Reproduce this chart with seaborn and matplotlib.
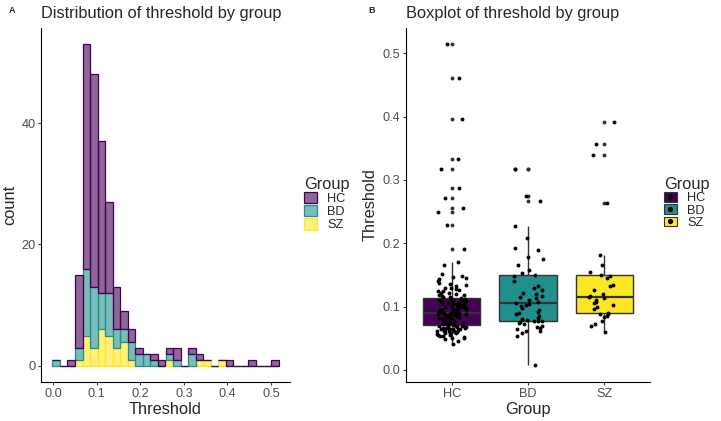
import matplotlib
matplotlib.use("Agg")
import matplotlib.pyplot as plt
from matplotlib.patches import Patch
from matplotlib.lines import Line2D
from matplotlib.legend_handler import HandlerTuple
import numpy as np
import pandas as pd
import seaborn as sns

# ============================================================
# DATA
# ============================================================

GROUPS = ["HC", "BD", "SZ"]
PALETTE = {"HC": "#440154", "BD": "#21908C", "SZ": "#FDE725"}

# histogram: 30 bins over this threshold range, counts per group
HIST_RANGE = (-0.0023, 0.5176)
N_BINS = 30
HC_COUNTS = [0, 0, 1, 12, 37, 35, 25, 15, 7, 3, 2, 1, 0, 1, 1,
             1, 2, 0, 1, 1, 0, 0, 0, 1, 0, 0, 1, 0, 0, 1]
BD_COUNTS = [1, 0, 0, 2, 11, 10, 6, 7, 3, 2, 3, 2, 2, 1, 0,
             1, 1, 0, 2, 0, 0, 0, 0, 0, 0, 0, 0, 0, 0, 0]
SZ_COUNTS = [0, 0, 0, 1, 5, 3, 6, 5, 3, 4, 1, 0, 0, 0, 0,
             1, 0, 0, 0, 1, 1, 0, 1, 0, 0, 0, 0, 0, 0, 0]

# boxplot: threshold per subject
HC_THRESH = [
    0.041, 0.046, 0.049, 0.050, 0.051, 0.052, 0.053, 0.054, 0.055, 0.056,
    0.057, 0.058, 0.058, 0.059, 0.060, 0.060, 0.061, 0.061, 0.062, 0.062,
    0.063, 0.063, 0.064, 0.064, 0.065, 0.065, 0.066, 0.066, 0.067, 0.067,
    0.068, 0.068, 0.069, 0.069, 0.070, 0.070, 0.070,
    0.071, 0.072, 0.072, 0.073, 0.074, 0.074, 0.075, 0.076, 0.076, 0.077,
    0.078, 0.078, 0.079, 0.080, 0.080, 0.081, 0.082, 0.082, 0.083, 0.083,
    0.084, 0.084, 0.085, 0.085, 0.086, 0.086, 0.087, 0.087, 0.088, 0.088,
    0.089, 0.089, 0.089, 0.090, 0.090, 0.090, 0.090,
    0.091, 0.091, 0.092, 0.092, 0.093, 0.093, 0.094, 0.095, 0.095, 0.096,
    0.097, 0.097, 0.098, 0.099, 0.099, 0.100, 0.100, 0.101, 0.102, 0.102,
    0.103, 0.104, 0.104, 0.105, 0.106, 0.106, 0.107, 0.108, 0.108, 0.109,
    0.110, 0.110, 0.111, 0.112, 0.112, 0.113, 0.114,
    0.115, 0.116, 0.117, 0.118, 0.119, 0.120, 0.121, 0.122, 0.124, 0.125,
    0.126, 0.128, 0.129, 0.130, 0.132, 0.134, 0.136, 0.138, 0.141, 0.144,
    0.145, 0.147, 0.148, 0.152, 0.165, 0.171,
    0.1905, 0.2295, 0.249, 0.255, 0.271, 0.288, 0.318, 0.333, 0.397, 0.4615,
    0.515,
]
BD_THRESH = [
    0.008, 0.054, 0.058, 0.061, 0.062, 0.065, 0.067, 0.068, 0.070, 0.072,
    0.074, 0.075, 0.077, 0.077,
    0.078, 0.079, 0.080, 0.082, 0.085, 0.088, 0.090, 0.092, 0.095, 0.098,
    0.101, 0.103, 0.104,
    0.106, 0.108, 0.110, 0.113, 0.115, 0.117, 0.120, 0.122, 0.126, 0.129,
    0.132, 0.140, 0.149,
    0.150, 0.153, 0.158, 0.166, 0.176, 0.178, 0.190, 0.193, 0.209, 0.227,
    0.267, 0.274, 0.317, 0.318,
]
SZ_THRESH = [
    0.060, 0.070, 0.072, 0.077, 0.084, 0.085, 0.088, 0.089,
    0.090, 0.097, 0.100, 0.103, 0.106, 0.108, 0.111, 0.114,
    0.116, 0.117, 0.120, 0.127, 0.133, 0.134, 0.146, 0.149,
    0.150, 0.155, 0.165, 0.182,
    0.263, 0.340, 0.357, 0.391,
]

# ============================================================
# BUILD TABLES
# ============================================================

edges = np.linspace(HIST_RANGE[0], HIST_RANGE[1], N_BINS + 1)
centers = (edges[:-1] + edges[1:]) / 2
hist_df = pd.concat([
    pd.DataFrame({"Threshold": centers, "count": c, "Group": g})
    for g, c in zip(GROUPS, [HC_COUNTS, BD_COUNTS, SZ_COUNTS])
], ignore_index=True)

box_df = pd.concat([
    pd.DataFrame({"Threshold": v, "Group": g})
    for g, v in zip(GROUPS, [HC_THRESH, BD_THRESH, SZ_THRESH])
], ignore_index=True)

# ============================================================
# STYLE
# ============================================================

sns.set_style("ticks")
plt.rcParams["font.family"] = ["Liberation Sans", "DejaVu Sans"]
plt.rcParams.update({
    "axes.linewidth": 0.8,
    "axes.edgecolor": "black",
    "xtick.color": "#333333",
    "ytick.color": "#333333",
    "xtick.labelcolor": "#4D4D4D",
    "ytick.labelcolor": "#4D4D4D",
    "xtick.major.size": 2.5,
    "ytick.major.size": 2.5,
    "xtick.major.width": 0.8,
    "ytick.major.width": 0.8,
    "xtick.major.pad": 1.5,
    "ytick.major.pad": 1.5,
    "xtick.labelsize": 9.2,
    "ytick.labelsize": 9.2,
})

TITLE_FS = 11.8
LABEL_FS = 11.8

fig = plt.figure(figsize=(7.21, 4.21), dpi=100)
ax1 = fig.add_axes([41 / 721, 39 / 421, 249 / 721, 354 / 421])
ax2 = fig.add_axes([406 / 721, 39 / 421, 244 / 721, 354 / 421])

# ============================================================
# PANEL A: stacked histogram
# ============================================================

sns.histplot(
    data=hist_df, x="Threshold", weights="count", hue="Group",
    hue_order=GROUPS, palette=PALETTE, bins=N_BINS, binrange=HIST_RANGE,
    multiple="stack", alpha=1, linewidth=0.9, legend=False, ax=ax1,
)
for p in ax1.patches:
    fc = p.get_facecolor()
    p.set_edgecolor((fc[0], fc[1], fc[2], 1))
    p.set_facecolor((fc[0], fc[1], fc[2], 0.6))

ax1.set_xlim(-0.0283, 0.5436)
ax1.set_ylim(-2.65, 55.65)
ax1.set_xticks([0.0, 0.1, 0.2, 0.3, 0.4, 0.5])
ax1.set_xticklabels(["0.0", "0.1", "0.2", "0.3", "0.4", "0.5"])
ax1.set_yticks([0, 20, 40])
ax1.set_xlabel("Threshold", fontsize=LABEL_FS, labelpad=2)
ax1.set_ylabel("count", fontsize=LABEL_FS, labelpad=3)
ax1.set_title("Distribution of threshold by group", loc="left",
              fontsize=TITLE_FS, pad=7)
sns.despine(ax=ax1)

hist_handles = [
    Patch(facecolor=(*matplotlib.colors.to_rgb(PALETTE[g]), 0.6),
          edgecolor=PALETTE[g], linewidth=0.9)
    for g in GROUPS
]
leg1 = fig.legend(
    hist_handles, GROUPS, title="Group", loc="upper left",
    bbox_to_anchor=(295 / 721, 1 - 168 / 421), frameon=False,
    fontsize=9.2, title_fontsize=11.8, handlelength=1.0,
    handleheight=1.0, labelspacing=0.0, handletextpad=0.8,
    borderpad=0.2,
)
leg1._legend_box.align = "left"

# ============================================================
# PANEL B: boxplot with jittered points
# ============================================================

sns.boxplot(
    data=box_df, x="Group", y="Threshold", hue="Group", order=GROUPS,
    hue_order=GROUPS, palette=PALETTE, saturation=1, width=0.75,
    linecolor="#333333", linewidth=1.0, showcaps=False, legend=False,
    ax=ax2, medianprops={"linewidth": 1.6},
    flierprops={"marker": "o", "markersize": 2.8,
                "markerfacecolor": "#333333", "markeredgecolor": "none"},
)
np.random.seed(3)
sns.stripplot(
    data=box_df, x="Group", y="Threshold", order=GROUPS, color="black",
    size=2.8, jitter=0.2, linewidth=0, ax=ax2,
)

ax2.set_xlim(-0.6, 2.6)
ax2.set_ylim(-0.019, 0.54)
ax2.set_yticks([0.0, 0.1, 0.2, 0.3, 0.4, 0.5])
ax2.set_yticklabels(["0.0", "0.1", "0.2", "0.3", "0.4", "0.5"])
ax2.set_xlabel("Group", fontsize=LABEL_FS, labelpad=2)
ax2.set_ylabel("Threshold", fontsize=LABEL_FS, labelpad=4)
ax2.set_title("Boxplot of threshold by group", loc="left",
              fontsize=TITLE_FS, pad=7)
sns.despine(ax=ax2)

box_handles = [
    (Patch(facecolor=PALETTE[g], edgecolor="#333333", linewidth=0.8),
     Line2D([], [], marker="o", color="black", ls="", markersize=2.8))
    for g in GROUPS
]
leg2 = fig.legend(
    box_handles, GROUPS, title="Group", loc="upper left",
    bbox_to_anchor=(655 / 721, 1 - 168 / 421), frameon=False,
    fontsize=9.2, title_fontsize=11.8, handlelength=1.0,
    handleheight=0.8, labelspacing=0.0, handletextpad=0.8,
    borderpad=0.2, handler_map={tuple: HandlerTuple(ndivide=1)},
)
leg2._legend_box.align = "left"

# panel tags
fig.text(9 / 721, 1 - 13 / 421, "A", fontsize=6.5, fontweight="bold")
fig.text(368 / 721, 1 - 13 / 421, "B", fontsize=6.5, fontweight="bold")

fig.savefig("out.png", dpi=100)
